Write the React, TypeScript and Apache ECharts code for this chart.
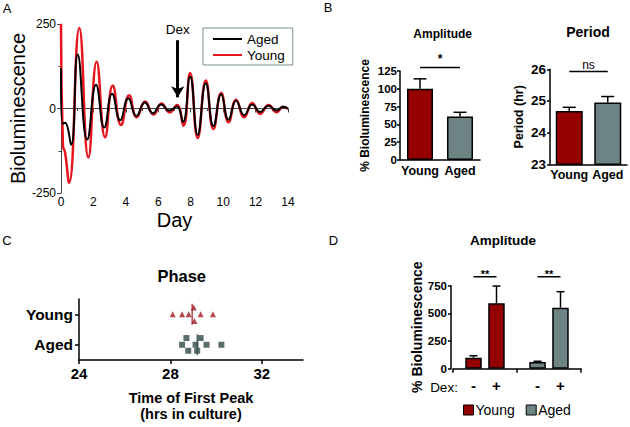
import React, { useEffect, useRef } from "react";
import * as echarts from "echarts";

// ---------- Panel A: bioluminescence traces (day, value) ----------
const youngTrace: [number, number][] = [
  [0, 250], [0.12, -110], [0.25, -130], [0.5, -220], [1.13, 238], [1.69, -145],
  [2.2, 138], [2.72, -85], [3.19, 68], [3.7, -49], [4.2, 39], [4.67, -26],
  [5.19, 21], [5.7, -18], [6.2, 15], [6.7, -12], [7.15, 10], [7.55, -51],
  [7.96, 105], [8.43, -87], [8.93, 83], [9.4, -61], [9.88, 46], [10.33, -41],
  [10.8, 26], [11.3, -26], [11.8, 16], [12.28, -16], [12.8, 10], [13.3, -11],
  [13.7, 5], [14, -2],
];
const agedTrace: [number, number][] = [
  [0, 120], [0.08, -45], [0.25, -42], [0.62, -107], [1.03, 160], [1.62, -92],
  [2.16, 70], [2.67, -56], [3.15, 44], [3.65, -35], [4.15, 30], [4.65, -22],
  [5.17, 18], [5.67, -14], [6.17, 12], [6.67, -6], [7.15, 6], [7.52, -40],
  [7.96, 95], [8.43, -78], [8.93, 75], [9.4, -52], [9.88, 42], [10.33, -33],
  [10.8, 23], [11.3, -20], [11.8, 12], [12.28, -10], [12.8, 8], [13.3, -6],
  [13.7, 5], [14, 0],
];
const dexDay = 7.2;
const dexArrowFrom = 202;
const dexArrowTo = 33;

// ---------- Panel B ----------
const groups = ["Young", "Aged"];
const amplitudeMean = [100, 61];
const amplitudeErrTop = [114, 67];
const amplitudeSig = 130;
const periodMean = [24.68, 24.95];
const periodErrTop = [24.8, 25.14];
const periodSig = 25.93;

// ---------- Panel C: time of first peak (hrs) ----------
const phaseCategories = ["Aged", "Young"];
const phaseYoung = [28.1, 28.51, 28.8, 29.02, 29.05, 29.32, 29.86];
const phaseAged = [28.51, 28.7, 28.78, 29.1, 29.17, 29.32, 29.58, 30.23];
const phaseTicks = [24, 28, 32];

// ---------- Panel D ----------
const dexLabels = ["-", "+"];
const dexMinusMean = [100, 61];
const dexMinusErrTop = [117, 67];
const dexPlusMean = [591, 551];
const dexPlusErrTop = [747, 696];
const dexSig = [831, 831];

// ---------- styles ----------
const FONT = '"Liberation Sans", Arial, sans-serif';
const RED_DARK = "#950000";
const GRAY = "#6e8484";
const youngJitter = [0, 0, 0, -6.7, 6.7, 0, 0];
const agedJitter = [0, -6.7, 6, 0, 6, -6.7, 0, 0];

const mean = (a: number[]) => a.reduce((s, v) => s + v, 0) / a.length;

function errorBars(idx: number, means: number[], tops: number[], offset: number, capW: number) {
  return {
    type: "custom",
    xAxisIndex: idx,
    yAxisIndex: idx,
    silent: true,
    z: 5,
    data: means.map((m, i) => [i, m, tops[i]]),
    encode: { x: 0, y: [1, 2] },
    renderItem: (_p: any, api: any) => {
      const base = api.coord([api.value(0), api.value(1)]);
      const top = api.coord([api.value(0), api.value(2)]);
      const cx = base[0] + offset;
      const st = { stroke: "#000", lineWidth: 1.5 };
      return {
        type: "group",
        children: [
          { type: "line", shape: { x1: cx, y1: base[1], x2: cx, y2: top[1] }, style: st },
          { type: "line", shape: { x1: cx - capW / 2, y1: top[1], x2: cx + capW / 2, y2: top[1] }, style: st },
        ],
      };
    },
  };
}

// significance bracket: rows of [fromCategory, toCategory, level]
function sigSeries(idx: number, rows: number[][], endOffset: number, text: string, font: string, textDy: number) {
  return {
    type: "custom",
    xAxisIndex: idx,
    yAxisIndex: idx,
    silent: true,
    z: 6,
    data: rows,
    encode: { x: [0, 1], y: 2 },
    renderItem: (_p: any, api: any) => {
      const a = api.coord([api.value(0), api.value(2)]);
      const b = api.coord([api.value(1), api.value(2)]);
      const x1 = a[0] - endOffset;
      const x2 = b[0] + endOffset;
      return {
        type: "group",
        children: [
          { type: "line", shape: { x1, y1: a[1], x2, y2: a[1] }, style: { stroke: "#000", lineWidth: 1.5 } },
          {
            type: "text",
            x: (x1 + x2) / 2,
            y: a[1] + textDy,
            style: { text, font, fill: "#000", align: "center", verticalAlign: "middle" },
          },
        ],
      };
    },
  };
}

function txt(text: string, x: number, y: number, font: string, align = "center") {
  return {
    type: "text",
    x,
    y,
    silent: true,
    style: { text, font, fill: "#000", align, verticalAlign: "middle" },
  };
}

const blackAxis = { show: true, lineStyle: { color: "#000", width: 1.5 } };
const boldLabel = (size: number, margin: number) => ({
  fontSize: size,
  fontWeight: "bold",
  fontFamily: FONT,
  color: "#000",
  margin,
});

export default function App() {
  const ref = useRef<HTMLDivElement>(null);
  useEffect(() => {
    if (!ref.current) return;
    const chart = echarts.init(ref.current, undefined, { renderer: "svg" });
    const option: any = {
      animation: false,
      textStyle: { fontFamily: FONT },
      grid: [
        { left: 61, top: 24, width: 227, height: 169 },
        { left: 400, top: 71, width: 80, height: 89 },
        { left: 550, top: 69.3, width: 77, height: 95 },
        { left: 79, top: 299, width: 224, height: 61 },
        { left: 453, top: 285.7, width: 128, height: 83 },
      ],
      legend: [
        {
          data: ["Aged", "Young"],
          orient: "vertical",
          left: 203,
          top: 28,
          padding: [4, 8, 3, 9],
          borderColor: "#7a8f8f",
          borderWidth: 1,
          itemWidth: 29,
          itemHeight: 14,
          itemGap: 2,
          selectedMode: false,
          itemStyle: { opacity: 0 },
          textStyle: { fontSize: 13.5, fontFamily: FONT, color: "#000" },
        },
        {
          data: [
            { name: "Young", icon: "rect", itemStyle: { color: RED_DARK, borderColor: "#000", borderWidth: 1, opacity: 1 } },
            { name: "Aged", icon: "rect", itemStyle: { color: GRAY, borderColor: "#000", borderWidth: 1, opacity: 1 } },
          ],
          orient: "horizontal",
          left: 463,
          top: 403,
          padding: 0,
          itemWidth: 10,
          itemHeight: 10,
          itemGap: 11,
          selectedMode: false,
          textStyle: { fontSize: 14, fontFamily: FONT, color: "#000", padding: [0, 0, 0, -3] },
        },
      ],
      xAxis: [
        {
          gridIndex: 0, type: "value", min: 0, max: 14, interval: 2,
          axisLine: { show: true, lineStyle: { color: "#444", width: 1 } },
          axisTick: { show: true, length: 4, lineStyle: { color: "#444" } },
          minorTick: { show: true, splitNumber: 2, length: 2.5, lineStyle: { color: "#444" } },
          splitLine: { show: false },
          axisLabel: { fontSize: 12, color: "#000", margin: 3, fontFamily: FONT },
          name: "Day", nameLocation: "middle", nameGap: 17,
          nameTextStyle: { fontSize: 20, color: "#000", fontFamily: FONT },
        },
        {
          gridIndex: 1, type: "category", data: groups,
          axisLine: blackAxis, axisTick: { show: false },
          axisLabel: { ...boldLabel(12.5, 4), interval: 0 },
        },
        {
          gridIndex: 2, type: "category", data: groups,
          axisLine: blackAxis, axisTick: { show: false },
          axisLabel: { ...boldLabel(12.5, 4), interval: 0 },
        },
        {
          gridIndex: 3, type: "value", min: 24, max: 33.8,
          axisLine: blackAxis,
          axisTick: { show: true, length: 4, lineStyle: { width: 1.5, color: "#000" }, customValues: phaseTicks },
          axisLabel: { ...boldLabel(15, 6), customValues: phaseTicks },
          splitLine: { show: false },
          name: "Time of First Peak\n(hrs in culture)", nameLocation: "middle", nameGap: 30,
          nameTextStyle: { fontSize: 14.5, fontWeight: "bold", lineHeight: 16, color: "#000", fontFamily: FONT },
        },
        {
          gridIndex: 4, type: "category", data: groups,
          axisLine: blackAxis,
          axisTick: { show: true, length: 4, lineStyle: { width: 1.5, color: "#000" } },
          axisLabel: {
            margin: 9,
            interval: 0,
            formatter: () => `{a|${dexLabels[0]}}{b|${dexLabels[1]}}`,
            rich: {
              a: { width: 23, align: "center", fontSize: 15, fontWeight: "bold", fontFamily: FONT, color: "#000" },
              b: { width: 23, align: "center", fontSize: 15, fontWeight: "bold", fontFamily: FONT, color: "#000" },
            },
          },
        },
      ],
      yAxis: [
        {
          gridIndex: 0, type: "value", min: -250, max: 250, interval: 250,
          axisLine: { show: true, lineStyle: { color: "#444", width: 1 } },
          axisTick: { show: true, length: 4, lineStyle: { color: "#444" } },
          minorTick: { show: true, splitNumber: 2, length: 2.5, lineStyle: { color: "#444" } },
          splitLine: { show: false },
          axisLabel: { fontSize: 12, color: "#000", margin: 5, fontFamily: FONT },
          name: "Bioluminescence", nameLocation: "middle", nameGap: 30,
          nameTextStyle: { fontSize: 20, color: "#000", fontFamily: FONT },
        },
        {
          gridIndex: 1, type: "value", min: 0, max: 125, interval: 25,
          axisLine: blackAxis,
          axisTick: { show: true, length: 3, lineStyle: { width: 1.5, color: "#000" } },
          splitLine: { show: false },
          axisLabel: boldLabel(11.5, 3),
          name: "% Bioluminescence", nameLocation: "middle", nameGap: 29,
          nameTextStyle: { fontSize: 12, fontWeight: "bold", color: "#000", fontFamily: FONT },
        },
        {
          gridIndex: 2, type: "value", min: 23, max: 26, interval: 1,
          axisLine: blackAxis,
          axisTick: { show: true, length: 3, lineStyle: { width: 1.5, color: "#000" } },
          splitLine: { show: false },
          axisLabel: boldLabel(13.5, 4),
          name: "Period (hr)", nameLocation: "middle", nameGap: 25,
          nameTextStyle: { fontSize: 12.5, fontWeight: "bold", color: "#000", fontFamily: FONT },
        },
        {
          gridIndex: 3, type: "category", data: phaseCategories,
          axisLine: blackAxis,
          axisTick: { show: true, alignWithLabel: true, length: 4, lineStyle: { width: 1.5, color: "#000" } },
          axisLabel: { ...boldLabel(15.5, 6), interval: 0 },
        },
        {
          gridIndex: 4, type: "value", min: 0, max: 750, interval: 250, offset: 2,
          axisLine: blackAxis,
          axisTick: { show: true, length: 3, lineStyle: { width: 1.5, color: "#000" } },
          splitLine: { show: false },
          axisLabel: boldLabel(11.5, 4),
          name: "% Bioluminescence", nameLocation: "middle", nameGap: 26,
          nameTextStyle: { fontSize: 14, fontWeight: "bold", color: "#000", fontFamily: FONT },
        },
      ],
      series: [
        {
          name: "Young", type: "line", xAxisIndex: 0, yAxisIndex: 0,
          data: youngTrace, smooth: 0.5, symbol: "none",
          lineStyle: { color: "#e8141c", width: 2.5 }, itemStyle: { color: "#e8141c" },
          markLine: {
            silent: true,
            symbol: ["none", "arrow"],
            symbolSize: [10, 11],
            lineStyle: { type: "solid", color: "#000", width: 3 },
            label: { show: true, position: "start", formatter: "Dex", fontSize: 13.5, color: "#000", fontFamily: FONT, distance: 4 },
            data: [[{ coord: [dexDay, dexArrowFrom] }, { coord: [dexDay, dexArrowTo] }]],
          },
        },
        {
          name: "Aged", type: "line", xAxisIndex: 0, yAxisIndex: 0,
          data: agedTrace, smooth: 0.5, symbol: "none",
          lineStyle: { color: "#000", width: 2 }, itemStyle: { color: "#000" },
        },
        {
          name: "amplitudeB", type: "bar", xAxisIndex: 1, yAxisIndex: 1, barWidth: 26,
          data: amplitudeMean.map((v, i) => ({ value: v, itemStyle: { color: i === 0 ? RED_DARK : GRAY } })),
          itemStyle: { borderColor: "#000", borderWidth: 1.5 },
        },
        errorBars(1, amplitudeMean, amplitudeErrTop, 0, 13),
        sigSeries(1, [[0, 1, amplitudeSig]], 0, "*", `bold 12px ${FONT}`, -8),
        {
          name: "periodB", type: "bar", xAxisIndex: 2, yAxisIndex: 2, barWidth: 27,
          data: periodMean.map((v, i) => ({ value: v, itemStyle: { color: i === 0 ? RED_DARK : GRAY } })),
          itemStyle: { borderColor: "#000", borderWidth: 1.5 },
        },
        errorBars(2, periodMean, periodErrTop, 0, 13),
        sigSeries(2, [[0, 1, periodSig]], 0, "ns", `12px ${FONT}`, -7),
        {
          name: "phaseYoung", type: "scatter", xAxisIndex: 3, yAxisIndex: 3,
          symbol: "triangle", symbolSize: 6, itemStyle: { color: "#a01c22" },
          data: phaseYoung.map((v, i) => ({ value: [v, "Young"], symbolOffset: [0, youngJitter[i]] })),
        },
        {
          name: "phaseAged", type: "scatter", xAxisIndex: 3, yAxisIndex: 3,
          symbol: "rect", symbolSize: 6, itemStyle: { color: "#2f4848" },
          data: phaseAged.map((v, i) => ({ value: [v, "Aged"], symbolOffset: [0, agedJitter[i]] })),
        },
        {
          name: "phaseYoungMean", type: "scatter", xAxisIndex: 3, yAxisIndex: 3,
          symbol: "rect", symbolSize: [1.5, 21], itemStyle: { color: "#a01c22" },
          data: [[mean(phaseYoung), "Young"]],
        },
        {
          name: "phaseAgedMean", type: "scatter", xAxisIndex: 3, yAxisIndex: 3,
          symbol: "rect", symbolSize: [1.5, 21], itemStyle: { color: "#2f4848" },
          data: [[mean(phaseAged), "Aged"]],
        },
        {
          name: "dexMinus", type: "bar", xAxisIndex: 4, yAxisIndex: 4, barWidth: 16.5, barGap: "39%",
          data: dexMinusMean.map((v, i) => ({ value: v, itemStyle: { color: i === 0 ? RED_DARK : GRAY } })),
          itemStyle: { borderColor: "#000", borderWidth: 1.5 },
        },
        {
          name: "dexPlus", type: "bar", xAxisIndex: 4, yAxisIndex: 4, barWidth: 16.5, barGap: "39%",
          data: dexPlusMean.map((v, i) => ({ value: v, itemStyle: { color: i === 0 ? RED_DARK : GRAY } })),
          itemStyle: { borderColor: "#000", borderWidth: 1.5 },
        },
        errorBars(4, dexMinusMean, dexMinusErrTop, -11.5, 8),
        errorBars(4, dexPlusMean, dexPlusErrTop, 11.5, 8),
        sigSeries(4, dexSig.map((v, i) => [i, i, v]), 11.5, "**", `bold 11px ${FONT}`, -3),
      ],
      graphic: [
        txt("A", 7, 8.5, `13px ${FONT}`),
        txt("B", 328, 7.5, `13px ${FONT}`),
        txt("C", 7, 240.5, `13px ${FONT}`),
        txt("D", 333.5, 240.5, `13px ${FONT}`),
        txt("Amplitude", 442.7, 34, `bold 12px ${FONT}`),
        txt("Period", 588, 32, `bold 14px ${FONT}`),
        txt("Phase", 181.7, 275.7, `bold 16.5px ${FONT}`),
        txt("Amplitude", 503, 240.7, `bold 13.5px ${FONT}`),
        txt("Dex:", 444, 387.7, `13.5px ${FONT}`),
      ],
    };
    chart.setOption(option);
    return () => chart.dispose();
  }, []);
  return (
    <div
      ref={ref}
      style={{ position: "fixed", left: 0, top: 0, width: 630, height: 427, background: "#fff" }}
    />
  );
}
